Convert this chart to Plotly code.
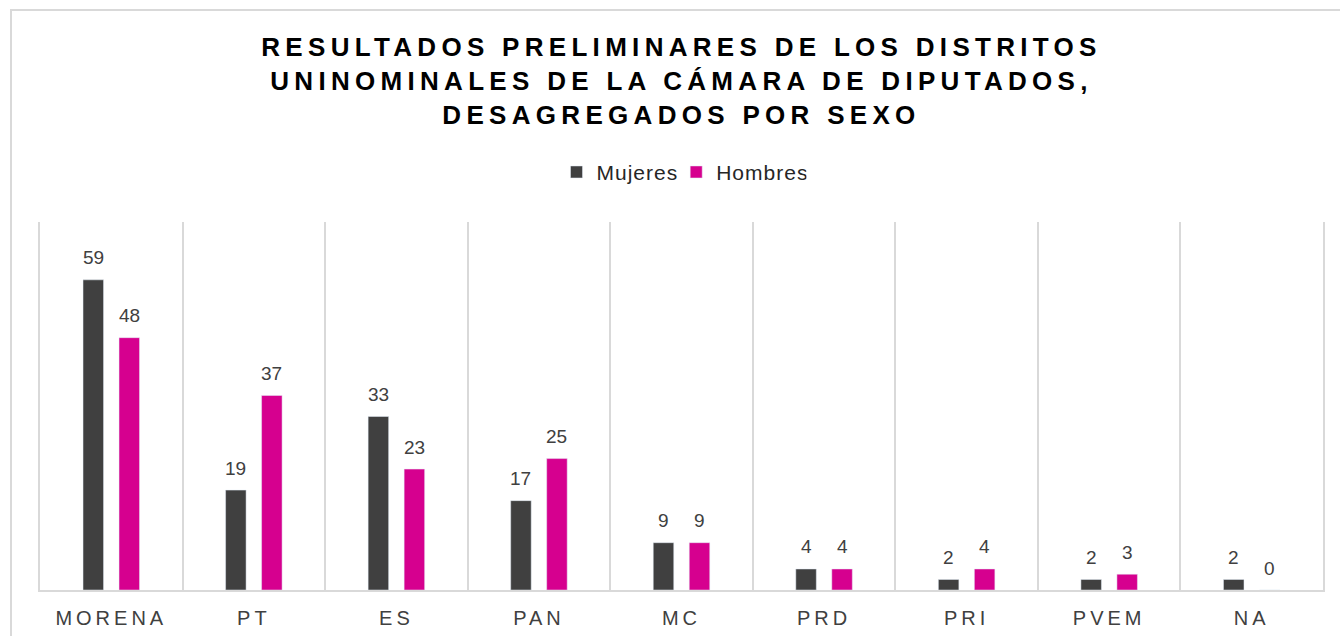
import plotly.graph_objects as go

categories = ["MORENA", "PT", "ES", "PAN", "MC", "PRD", "PRI", "PVEM", "NA"]
mujeres = [59, 19, 33, 17, 9, 4, 2, 2, 2]
hombres = [48, 37, 23, 25, 9, 4, 4, 3, 0]

title_text = ("RESULTADOS PRELIMINARES DE LOS DISTRITOS<br>"
              "UNINOMINALES DE LA CÁMARA DE DIPUTADOS,<br>"
              "DESAGREGADOS POR SEXO")

DARK = "#404040"
MAGENTA = "#D6008F"
GRID = "#D9D9D9"
FONT = "Liberation Sans, Arial, sans-serif"

fig = go.Figure()
fig.add_trace(go.Bar(name="Mujeres", x=categories, y=mujeres, marker_color=DARK))
fig.add_trace(go.Bar(name="Hombres", x=categories, y=hombres, marker_color=MAGENTA))

# data labels
for series, shift in ((mujeres, -18), (hombres, 18)):
    for c, v in zip(categories, series):
        fig.add_annotation(x=c, y=v, text=str(v), showarrow=False,
                           xshift=shift, yshift=22, yanchor="middle",
                           font=dict(family=FONT, size=19, color=DARK))

fig.update_layout(
    width=1340, height=636,
    margin=dict(l=40, r=17, t=222, b=46, autoexpand=False),
    paper_bgcolor="white", plot_bgcolor="white",
    barmode="group", bargap=0.495, bargroupgap=0.43,
    title=dict(text=title_text, x=0.5, xref="paper", xanchor="center",
               y=0.912, yref="container", yanchor="middle",
               font=dict(family=FONT, size=26, color="#000000", weight="bold")),
    legend=dict(orientation="h", x=0.5, xanchor="center", xref="paper",
                y=1.135, yanchor="middle", yref="paper",
                font=dict(family=FONT, size=21, color="#262626"),
                itemwidth=30, traceorder="normal"),
    xaxis=dict(type="category", tickson="boundaries", showgrid=True,
               gridcolor=GRID, gridwidth=2, showline=True, linecolor=GRID,
               linewidth=2, ticks="", ticklabelstandoff=9, automargin=False,
               tickfont=dict(family=FONT, size=20, color=DARK)),
    yaxis=dict(range=[0, 70], showticklabels=False, ticks="", showgrid=False,
               zeroline=False, showline=True, mirror=True, linecolor=GRID,
               linewidth=2, automargin=False),
    showlegend=True,
    shapes=[dict(type="rect", xref="paper", yref="paper",
                 x0=-0.0226, x1=1.3, y0=-0.6, y1=1.576,
                 line=dict(color=GRID, width=2), fillcolor="rgba(0,0,0,0)",
                 layer="below")],
)

post = """
var s = document.createElement('style');
s.innerHTML = 'html,body{margin:0;padding:0;} .gtitle{letter-spacing:5.3px;} .xtick text{letter-spacing:4px;} .legendtext{letter-spacing:1px;}';
document.head.appendChild(s);
"""

fig.write_html("out.html", post_script=post, config={"displayModeBar": False})
